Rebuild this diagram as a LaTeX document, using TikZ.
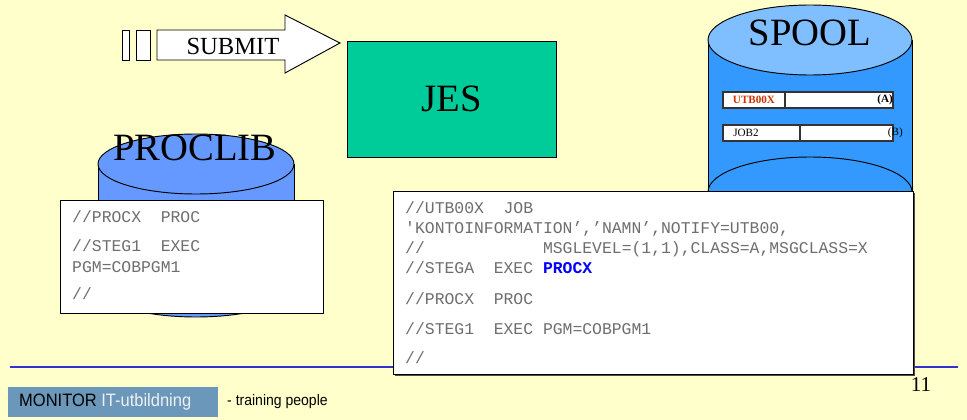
\documentclass[tikz,border=0pt]{standalone}
\usepackage{fontspec}
\setmainfont{Liberation Serif}
\setmonofont{Liberation Mono}
\newfontfamily\footfont[FakeStretch=0.92]{Liberation Sans}

\definecolor{slidebg}{HTML}{FFFFCC}
\definecolor{spoolbody}{HTML}{3399FF}
\definecolor{spooltop}{HTML}{80BFFF}
\definecolor{procfill}{HTML}{6699FF}
\definecolor{jesgreen}{HTML}{00CC99}
\definecolor{lineblue}{HTML}{3333CC}
\definecolor{footblue}{HTML}{6A97BA}
\definecolor{utbred}{HTML}{CC3300}
\definecolor{procblue}{HTML}{0000FF}
\definecolor{codegray}{HTML}{6E6E6E}

\begin{document}
\begin{tikzpicture}[x=0.03cm, y=-0.03cm,
  big/.style={font=\fontsize{33}{36}\selectfont, inner sep=0pt},
  code/.style={font=\ttfamily\fontsize{14}{17}\selectfont, text=codegray, anchor=base west, inner sep=0pt},
  codebox/.style={draw=black, fill=white, line width=0.8pt},
  disk/.style={draw=black, line width=0.8pt},
  row/.style={draw=black!80, fill=white, line width=1pt},
  small/.style={font=\fontsize{9.5}{11}\selectfont, inner sep=0pt},
  smallbold/.style={font=\fontsize{9.5}{11}\selectfont\bfseries, inner sep=0pt}]

\fill[slidebg] (0,0) rectangle (967,420);
\useasboundingbox (0,0) rectangle (967,420);

\draw[lineblue, line width=2.5pt] (10,367) -- (958,367);

% PROCLIB
\fill[procfill] (98,164) rectangle (294,287);
\filldraw[disk, fill=procfill] (196,287) ellipse [x radius=98, y radius=30];
\draw[disk] (98,164) -- (98,287) (294,164) -- (294,287);
\filldraw[disk, fill=procfill] (196,164) ellipse [x radius=98, y radius=30];
\node[big] (proclib) at (195,148) {PROCLIB};

\draw[codebox] (60,200) rectangle (323,313);
\foreach \y/\t [count=\i] in {222/{//PROCX~~PROC}, 251/{//STEG1~~EXEC}, 272/{PGM=COBPGM1}, 299/{//}}
  \node[code] (lib\i) at (72,\y) {\t};

% SPOOL
\fill[spoolbody] (708,40) rectangle (912,192);
\filldraw[disk, fill=spoolbody] (810,192) ellipse [x radius=102, y radius=35];
\draw[disk] (708,40) -- (708,192) (912,40) -- (912,192);
\filldraw[disk, fill=spooltop] (810,40) ellipse [x radius=102, y radius=35];
\node[big] (spool) at (810,33) {SPOOL};

\draw[row] (723,92) rectangle (893,108);
\draw[row] (785,92) -- (785,108);
\node[smallbold, text=utbred] (job1) at (754,100) {UTB00X};
\node[smallbold, anchor=east] (joba) at (893,100) {(A)};
\draw[row] (723,125) rectangle (893,141);
\draw[row] (800,125) -- (800,141);
\node[small] (job2) at (746,133) {JOB2};
\node[small, anchor=east] (jobb) at (903,133) {(B)};

% JES and SUBMIT
\node[draw=black, fill=jesgreen, line width=0.8pt, minimum width=6.27cm, minimum height=3.48cm,
  font=\fontsize{33}{36}\selectfont] (jes) at (451.5,99) {JES};

\draw[fill=white, line width=0.8pt] (122,30) rectangle (129,60);
\draw[fill=white, line width=0.8pt] (136,30) rectangle (150,60);
\draw[fill=white, line width=0.8pt] (157,30) -- (285,30) -- (285,15) -- (340,43)
  -- (285,73) -- (285,60) -- (157,60) -- cycle;
\node[font=\fontsize{21}{24}\selectfont, inner sep=0pt] (submit) at (233,46) {SUBMIT};

% job stream
\fill[black!70] (394.5,192.5) rectangle (914.5,375.5);
\draw[codebox] (393,191) rectangle (913,374);
\foreach \y/\t [count=\i] in {213/{//UTB00X~~JOB},
    233/{'KONTOINFORMATION’,’NAMN’,NOTIFY=UTB00,},
    253/{//~~~~~~~~~~~~MSGLEVEL=(1,1),CLASS=A,MSGCLASS=X},
    273/{//STEGA~~EXEC~\textbf{\color{procblue}PROCX}},
    304/{//PROCX~~PROC},
    334/{//STEG1~~EXEC~PGM=COBPGM1},
    363/{//}}
  \node[code] (jcl\i) at (405,\y) {\t};

% footer
\node[fill=footblue, minimum width=6.3cm, minimum height=0.9cm, inner sep=0pt] (foot) at (113,402) {};
\node[font=\footfont\fontsize{15.3}{17}\selectfont, anchor=west, inner sep=0pt] (brand) at (19,402)
  {MONITOR \textcolor{white!94!black}{IT-utbildning}};
\node[font=\footfont\fontsize{13}{15}\selectfont, anchor=west, inner sep=0pt] (tag) at (227,402) {- training people};
\node[font=\fontsize{18}{20}\selectfont, inner sep=0pt] (page) at (921,385) {11};

\end{tikzpicture}
\end{document}
